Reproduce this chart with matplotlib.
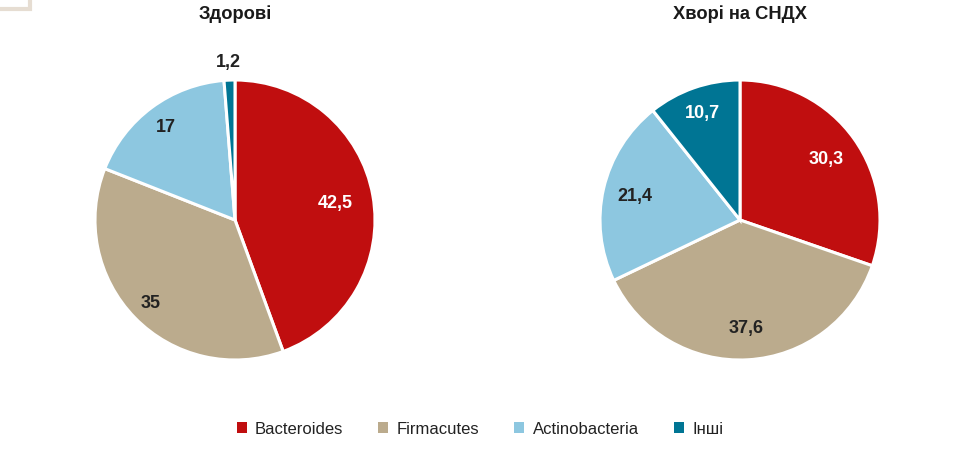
import matplotlib.pyplot as plt
from matplotlib.patches import Patch, Rectangle
import numpy as np

plt.rcParams['font.family'] = ['Liberation Sans', 'DejaVu Sans']

categories = ['Bacteroides', 'Firmacutes', 'Actinobacteria', 'Інші']
colors = ['#C00E0F', '#BBAB8D', '#8DC7E0', '#007594']
healthy = [42.5, 35, 17, 1.2]
sick = [30.3, 37.6, 21.4, 10.7]
healthy_labels = ['42,5', '35', '17', '1,2']
sick_labels = ['30,3', '37,6', '21,4', '10,7']
titles = ['Здорові', 'Хворі на СНДХ']

W, H = 970, 464
fig = plt.figure(figsize=(W / 100, H / 100), dpi=100)


def draw_pie(cx, cy, values, labels, dists, txtcolors, title):
    r = 140
    ax = fig.add_axes([(cx - r) / W, (H - cy - r) / H, 2 * r / W, 2 * r / H])
    wedges, _ = ax.pie(values, colors=colors, startangle=90, counterclock=False,
                       wedgeprops=dict(edgecolor='white', linewidth=2.2))
    for w, lab, d, tc in zip(wedges, labels, dists, txtcolors):
        ang = np.deg2rad((w.theta1 + w.theta2) / 2)
        ax.text(d * np.cos(ang), d * np.sin(ang), lab, ha='center', va='center',
                fontsize=13, fontweight='bold', color=tc)
    ax.set_xlim(-1, 1)
    ax.set_ylim(-1, 1)
    ax.axis('off')
    fig.text(cx / W, 1 - 14 / H, title, ha='center', va='center',
             fontsize=13.2, fontweight='bold', color='#1a1a1a')


draw_pie(235, 221, healthy, healthy_labels, [0.73, 0.84, 0.83, 1.13],
         ['white', '#222222', '#222222', '#222222'], titles[0])
draw_pie(740, 221, sick, sick_labels, [0.76, 0.77, 0.77, 0.81],
         ['white', '#222222', '#222222', 'white'], titles[1])

handles = [Patch(facecolor=c, edgecolor='none') for c in colors]
fig.legend(handles, categories, loc='center', bbox_to_anchor=(480 / W, 1 - 430 / H),
           ncol=4, frameon=False, fontsize=12, handlelength=0.6, handleheight=0.6,
           columnspacing=2.1, handletextpad=0.5, labelcolor='#222222')

# small decorative frame in the corner
fig.patches.append(Rectangle((-20 / W, 1 - 10 / H), 50 / W, 30 / H, transform=fig.transFigure,
                             facecolor='white', edgecolor='#E6DDD2', linewidth=3))

fig.savefig('out.png', dpi=100)
